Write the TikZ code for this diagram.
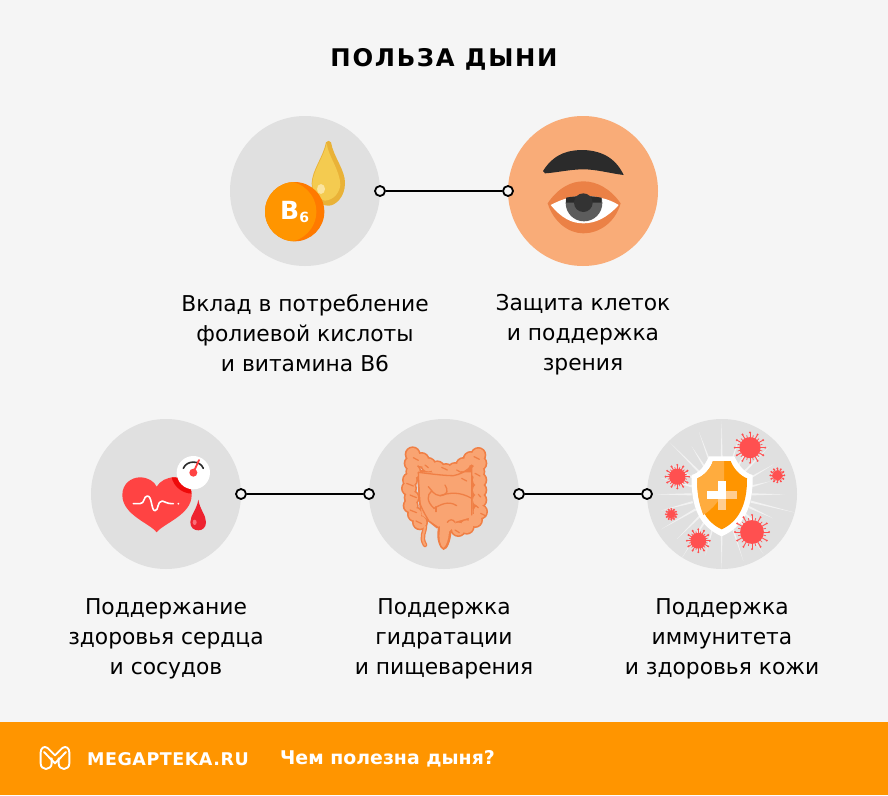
\documentclass[tikz,border=0pt]{standalone}
\usepackage{fontspec}
\setmainfont{DejaVu Sans}
\newfontfamily\capsfont[LetterSpace=7]{DejaVu Sans}
\newfontfamily\brandfont[LetterSpace=3]{DejaVu Sans}
\usetikzlibrary{calc}
\definecolor{bgc}{HTML}{F5F5F5}
\definecolor{disc}{HTML}{E0E0E0}
\definecolor{org}{HTML}{FF9500}
\definecolor{dorg}{HTML}{FF7A00}
\definecolor{skin}{HTML}{F9AC78}
\definecolor{lid}{HTML}{EB8146}
\definecolor{ink}{HTML}{2B2B2B}
\definecolor{heartc}{HTML}{FF4343}
\definecolor{dheart}{HTML}{EE0A0A}
\definecolor{gut}{HTML}{F9A472}
\definecolor{gutl}{HTML}{F07F45}
\definecolor{virus}{HTML}{FF5050}
\definecolor{dropd}{HTML}{E9B238}
\definecolor{dropm}{HTML}{F4CB50}
\definecolor{dropl}{HTML}{FAE4A0}
\definecolor{iris}{HTML}{5C5C5C}
\definecolor{pupil}{HTML}{333333}
\definecolor{bdrop}{HTML}{EE2330}
\definecolor{bdropl}{HTML}{FA6E78}
\definecolor{shl}{HTML}{FFAC3E}
\definecolor{plusl}{HTML}{FFCD91}
\tikzset{
  x=1pt,y=-1pt,
  disk/.style={circle,minimum size=150pt,inner sep=0pt,fill=disc},
  dot/.style={circle,minimum size=10pt,inner sep=0pt,draw=black,line width=1.8pt,fill=bgc},
  link/.style={draw=black,line width=1.8pt},
  caption/.style={align=center,font=\fontsize{21.8}{30}\selectfont,text=black,inner sep=0pt},
  zoomed/.style={x=0.33333pt,y=-0.33333pt},
}
\newcommand{\virusicon}[3]{% x y r
  \fill[virus] (#1,#2) circle ({#3*0.66});
  \foreach \a in {0,30,...,330}{
    \draw[virus,line width=0.9pt] (#1,#2) -- ++(\a:{#3*0.93});
    \fill[virus] ($(#1,#2)+(\a:{#3*0.95})$) circle (3.3);
  }
  \foreach \a in {15,45,...,345}{
    \draw[virus,line width=0.7pt] (#1,#2) -- ++(\a:{#3*0.8});
  }
}
\begin{document}
\begin{tikzpicture}
\useasboundingbox (0,0) rectangle (888,795);
\fill[bgc] (0,0) rectangle (888,795);
\fill[org] (0,722) rectangle (888,795);

\node[font=\capsfont\bfseries\fontsize{24.3}{30}\selectfont,inner sep=0pt] (title) at (444,59) {ПОЛЬЗА ДЫНИ};

% discs
\node[disk] (c1) at (305,191) {};
\node[disk,fill=skin] (c2) at (583,191) {};
\node[disk] (c3) at (166,494) {};
\node[disk] (c4) at (444,494) {};
\node[disk] (c5) at (722,494) {};

% connectors
\node[dot] (d1a) at (380,191) {};
\node[dot] (d1b) at (508,191) {};
\node[dot] (d2a) at (241,494) {};
\node[dot] (d2b) at (369,494) {};
\node[dot] (d3a) at (519,494) {};
\node[dot] (d3b) at (647,494) {};
\draw[link] (d1a) -- (d1b);
\draw[link] (d2a) -- (d2b);
\draw[link] (d3a) -- (d3b);

% captions
\node[caption] (t1) at (305,333) {Вклад в потребление\\фолиевой кислоты\\и витамина В6};
\node[caption] (t2) at (583,335) {Защита клеток\\и поддержка\\зрения};
\node[caption] (t3) at (166,639) {Поддержание\\здоровья сердца\\и сосудов};
\node[caption] (t4) at (444,639) {Поддержка\\гидратации\\и пищеварения};
\node[caption] (t5) at (722,639) {Поддержка\\иммунитета\\и здоровья кожи};

% B6 icon
\begin{scope}[shift={(220,110)},zoomed]
  \fill[dropd] (318,97) .. controls (322,91) and (330,91) .. (333,97) .. controls (340,140) and (376,180) .. (375,220) .. controls (375,262) and (345,288) .. (325,287) .. controls (300,288) and (275,262) .. (275,220) .. controls (276,180) and (310,140) .. (318,97) -- cycle;
  \fill[dropm] (320,100) .. controls (325,140) and (360,180) .. (361,225) .. controls (358,250) and (340,270) .. (315,272) .. controls (295,270) and (278,250) .. (277,220) .. controls (280,180) and (312,140) .. (320,100) -- cycle;
  \fill[dropl] (303,237) ellipse (12 and 15);
  \fill[dorg] (224,305) circle (89);
  \begin{scope}
    \clip (224,305) circle (89);
    \fill[org] (198,305) circle (91);
  \end{scope}
  \node[text=white,inner sep=0pt,font=\bfseries\fontsize{25}{25}\selectfont] (b) at (209,301) {B};
  \node[text=white,inner sep=0pt,font=\bfseries\fontsize{14}{14}\selectfont] (six) at (253,322) {6};
\end{scope}

% eye icon
\begin{scope}[shift={(500,110)},zoomed]
  \fill[ink] (129,183) .. controls (165,125) and (215,120) .. (250,120) .. controls (300,122) and (345,140) .. (371,195) .. controls (330,190) and (290,178) .. (250,178) .. controls (210,178) and (170,188) .. (135,190) -- cycle;
  \fill[lid] (143,280) .. controls (175,232) and (215,214) .. (250,214) .. controls (290,214) and (330,235) .. (362,280) .. controls (345,340) and (295,370) .. (250,370) .. controls (205,370) and (160,335) .. (143,280) -- cycle;
  \fill[white] (152,285) .. controls (190,265) and (220,258) .. (250,258) .. controls (285,258) and (325,265) .. (356,285) .. controls (320,325) and (285,340) .. (250,340) .. controls (215,340) and (185,325) .. (152,285) -- cycle;
  \begin{scope}
    \clip (152,285) .. controls (190,265) and (220,258) .. (250,258) .. controls (285,258) and (325,265) .. (356,285) .. controls (320,325) and (285,340) .. (250,340) .. controls (215,340) and (185,325) .. (152,285) -- cycle;
    \fill[iris] (252,279) circle (55);
  \end{scope}
  \fill[ink] (198,263) .. controls (230,257) and (270,257) .. (304,263) -- (304,278) -- (198,278) -- cycle;
  \fill[pupil] (250,278) circle (28);
\end{scope}

% heart icon
\begin{scope}[shift={(85,415)},zoomed]
  \def\heartpath{(215,352) .. controls (195,325) and (112,300) .. (112,240) .. controls (112,205) and (140,187) .. (165,187) .. controls (190,187) and (208,200) .. (215,215) .. controls (225,198) and (245,187) .. (268,187) .. controls (295,187) and (320,210) .. (320,240) .. controls (320,300) and (235,325) .. (215,352) -- cycle}
  \fill[heartc] \heartpath;
  \begin{scope}
    \clip \heartpath;
    \fill[dheart] (322,172) circle (64);
  \end{scope}
  \fill[white] (325,173) circle (50);
  \draw[ink,line width=1.6pt,line cap=round] (295,160) .. controls (305,135) and (345,135) .. (355,160);
  \draw[heartc,line width=1.8pt,line cap=round] (325,173) -- (342,135);
  \fill[heartc] (325,173) circle (12);
  \draw[white,line width=1.6pt,line cap=round,line join=round] (145,266) -- (165,266) .. controls (180,266) and (175,243) .. (187,243) .. controls (202,243) and (198,287) .. (210,287) .. controls (222,287) and (215,258) .. (232,258) .. controls (240,258) and (240,266) .. (265,266);
  \fill[white] (280,266) circle (3);
  \fill[bdrop] (340,254) .. controls (345,285) and (363,300) .. (363,322) .. controls (363,338) and (352,346) .. (340,346) .. controls (327,346) and (316,338) .. (316,322) .. controls (316,300) and (335,285) .. (340,254) -- cycle;
  \fill[bdropl] (329,322) ellipse (6 and 8);
\end{scope}

% intestine icon
\begin{scope}[shift={(360,415)},zoomed]
  \def\gutpts{158/118,155/145,160/170,150/195,147/220,155/248,152/272,165/298,180/322,185/135,205/150,232/160,258/168,285/165,310/150,332/132,355/120,358/145,352/170,358/195,358/225,358/255,360/290,345/315,320/335,295/342}
  \foreach \p/\q in \gutpts {\fill[gutl] (\p,\q) circle (24);}
  \fill[gutl] (170,165) -- (340,160) -- (345,310) -- (230,340) -- (180,300) -- cycle;
  \draw[gutl,line width=4.5pt,line cap=round] (195,335) .. controls (195,350) and (180,365) .. (195,390);
  \fill[gutl] (233,345) .. controls (230,310) and (270,285) .. (290,310) .. controls (305,330) and (280,345) .. (274,355) .. controls (272,375) and (264,405) .. (250,405) .. controls (238,400) and (228,370) .. (233,345) -- cycle;
  \foreach \p/\q in \gutpts {\fill[gut] (\p,\q) circle (19);}
  \fill[gut] (175,172) -- (335,172) -- (338,305) -- (235,335) -- (185,300) -- cycle;
  \draw[gut,line width=2pt,line cap=round] (195,335) .. controls (195,350) and (180,365) .. (195,390);
  \fill[gut] (240,345) .. controls (237,315) and (270,295) .. (283,312) .. controls (295,328) and (275,340) .. (267,350) .. controls (266,372) and (258,395) .. (250,398) .. controls (242,395) and (235,370) .. (240,345) -- cycle;
  \draw[gutl,line width=1.3pt,line cap=round,line join=round] (175,172) .. controls (200,175) and (250,182) .. (280,182) .. controls (300,178) and (320,170) .. (335,150) -- (335,300);
  \draw[gutl,line width=1.3pt,line cap=round] (175,172) -- (178,260) .. controls (185,280) and (190,290) .. (205,315);
  \draw[gutl,line width=1.3pt,line cap=round] (205,215) .. controls (215,225) and (220,240) .. (240,242) .. controls (265,240) and (265,225) .. (255,210);
  \draw[gutl,line width=1.3pt,line cap=round] (240,242) .. controls (270,232) and (300,230) .. (335,250);
  \draw[gutl,line width=1.3pt,line cap=round] (215,228) .. controls (200,240) and (200,260) .. (222,280) .. controls (240,270) and (265,255) .. (290,272);
  \draw[gutl,line width=1.3pt,line cap=round] (228,275) -- (228,290);
  \foreach \p/\q/\r in {160/128/175,195/150/205,245/157/262,290/165/305,305/190/320,342/125/358,345/175/360,140/205/160,150/240/170,150/285/170,168/318/185,355/238/362,362/295/378,285/345/298,345/270/355}
    {\draw[gutl,line width=1.2pt,line cap=round] (\p,\q) -- (\r,\q+8);}
  \draw[gutl,line width=1.3pt,line cap=round] (262,322) .. controls (268,312) and (280,312) .. (285,322);
\end{scope}

% shield icon
\begin{scope}[shift={(640,415)},zoomed]
  \begin{scope}
    \clip (245,238) circle (225);
    \foreach \a/\l in {0/190,14/230,25/170,40/180,55/220,72/210,90/230,105/190,122/230,135/190,150/210,165/190,180/200,195/190,210/170,225/220,238/170,250/200,270/220,287/180,300/170,315/200,330/180,345/150}
      \fill[white,opacity=.6] ($(245,238)+(\a-2:90)$) -- ($(245,238)+(\a:\l)$) -- ($(245,238)+(\a+2:90)$) -- cycle;
  \end{scope}
  \fill[white] (207,124) -- (283,124) .. controls (295,150) and (315,175) .. (338,180) .. controls (340,280) and (310,335) .. (245,364) .. controls (180,335) and (152,280) .. (155,180) .. controls (178,175) and (195,150) .. (207,124) -- cycle;
  \fill[org] (219,138) -- (272,138) .. controls (280,160) and (300,182) .. (321,190) .. controls (322,270) and (295,320) .. (245,343) .. controls (195,320) and (170,270) .. (172,190) .. controls (193,182) and (212,160) .. (219,138) -- cycle;
  \fill[shl] (219,138) -- (252,138) -- (252,210) .. controls (248,250) and (220,280) .. (190,300) .. controls (178,270) and (170,235) .. (172,190) .. controls (193,182) and (212,160) .. (219,138) -- cycle;
  \fill[plusl] (234,197) rectangle (258,285);
  \fill[plusl] (202,228) rectangle (291,252);
  \fill[white] (202,228) rectangle (258,252);
  \fill[white] (234,197) rectangle (258,240);
  \virusicon{330}{98}{48}
  \virusicon{112}{185}{37}
  \virusicon{412}{181}{22}
  \virusicon{94}{298}{17}
  \virusicon{175}{377}{36}
  \virusicon{336}{351}{54}
\end{scope}

% footer
\begin{scope}[shift={(0,720)},zoomed]
  \draw[white,line width=1.9pt,line join=round,line cap=round] (155,115) -- (155,130) .. controls (155,140) and (147,147) .. (138,147) .. controls (129,147) and (122,140) .. (122,130) -- (122,97) .. controls (122,85) and (132,76) .. (143,84) -- (165,106) -- (187,84) .. controls (198,76) and (208,85) .. (208,97) -- (208,130) .. controls (208,140) and (201,147) .. (192,147) .. controls (183,147) and (176,140) .. (176,130) -- (176,115);
  \draw[white,line width=1.9pt,line join=round,line cap=round] (132,96) -- (165,130) -- (198,96);
\end{scope}
\node[anchor=west,text=white,inner sep=0pt,font=\brandfont\bfseries\fontsize{17.5}{20}\selectfont] (brand) at (87,759) {MEGAPTEKA.RU};
\node[anchor=west,text=white,inner sep=0pt,font=\bfseries\fontsize{18.9}{20}\selectfont] (sub) at (280,759) {Чем полезна дыня?};
\end{tikzpicture}
\end{document}
